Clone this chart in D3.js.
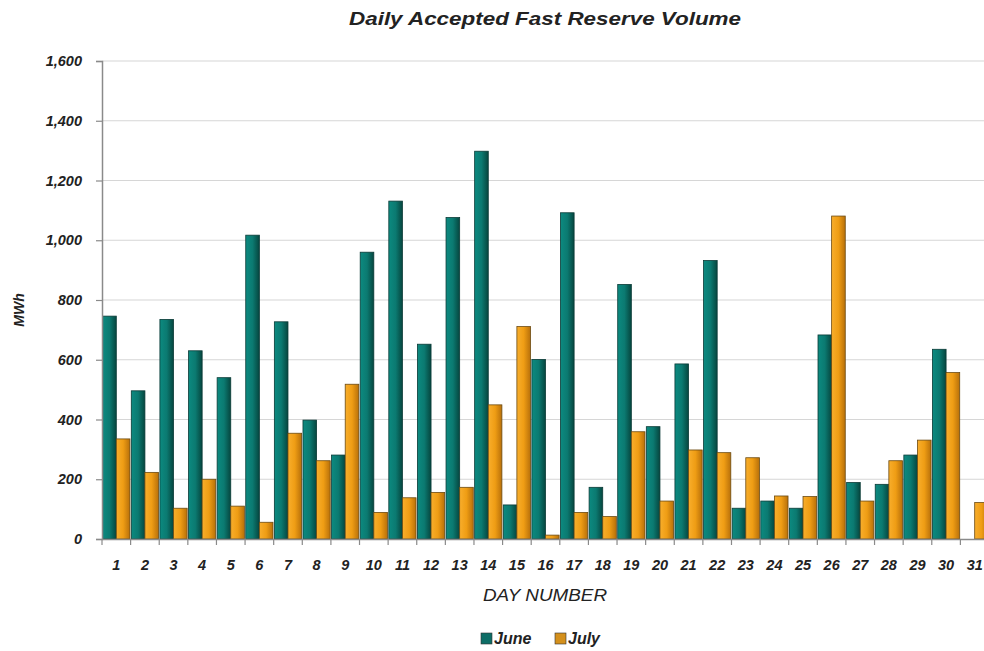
<!DOCTYPE html>
<html>
<head>
<meta charset="utf-8">
<script src="https://cdn.jsdelivr.net/npm/d3@7"></script>
<style>
  body { margin: 0; background: #fff; overflow: hidden; }
  svg { display: block; font-family: "Liberation Sans", Arial, sans-serif; }
</style>
</head>
<body>
<div id="chart"></div>
<script>
const days = d3.range(1, 32).map(String);
const june = [746, 496, 735, 630, 540, 1017, 727, 398, 281, 960, 1131, 652, 1076, 1298, 114, 601,
  1092, 173, 852, 376, 586, 932, 103, 127, 103, 683, 189, 183, 281, 635, 0];
const july = [335, 223, 103, 200, 110, 56, 354, 262, 518, 89, 138, 156, 173, 449, 711, 13,
  89, 75, 359, 127, 298, 289, 272, 144, 142, 1081, 127, 262, 331, 557, 122];
const seriesNames = ["June", "July"];
const yTicks = [0, 200, 400, 600, 800, 1000, 1200, 1400, 1600];

const W = 984, H = 651;
const margin = {top: 61, left: 102};
const plotW = 887, plotH = 478;

const svg = d3.select("#chart").append("svg")
  .attr("width", W).attr("height", H);

// gradients for the bars
const defs = svg.append("defs");
const grads = [
  {id: "gJune", stops: ["#0c8a80", "#0b7a71", "#06463f"]},
  {id: "gJuly", stops: ["#f8ae2c", "#ef9d14", "#b8700a"]}
];
grads.forEach(g => {
  const lg = defs.append("linearGradient").attr("id", g.id)
    .attr("x1", "0").attr("x2", "1").attr("y1", "0").attr("y2", "0");
  lg.append("stop").attr("offset", "0%").attr("stop-color", g.stops[0]);
  lg.append("stop").attr("offset", "50%").attr("stop-color", g.stops[1]);
  lg.append("stop").attr("offset", "100%").attr("stop-color", g.stops[2]);
});

const g = svg.append("g").attr("transform", `translate(${margin.left},${margin.top})`);

const x = d3.scaleBand().domain(days).range([0, plotW]).paddingInner(0).paddingOuter(0);
const x1 = d3.scaleBand().domain(seriesNames).range([0, x.bandwidth()]).paddingOuter(0.05);
const y = d3.scaleLinear().domain([0, 1600]).range([plotH, 0]);

// grid
g.append("g").selectAll("line").data(yTicks.slice(1)).join("line")
  .attr("x1", 0).attr("x2", plotW)
  .attr("y1", d => y(d)).attr("y2", d => y(d))
  .attr("stroke", "#d6d6d6").attr("stroke-width", 1.2);

// bars
const rows = days.map((d, i) => ({day: d, June: june[i], July: july[i]}));
const grp = g.append("g").selectAll("g").data(rows).join("g")
  .attr("transform", d => `translate(${x(d.day)},0)`);
grp.selectAll("rect")
  .data(d => seriesNames.map(k => ({key: k, value: d[k]})).filter(e => e.value > 0))
  .join("rect")
  .attr("x", d => x1(d.key))
  .attr("width", x1.bandwidth())
  .attr("y", d => y(d.value))
  .attr("height", d => y(0) - y(d.value))
  .attr("fill", d => d.key === "June" ? "url(#gJune)" : "url(#gJuly)")
  .attr("stroke", d => d.key === "June" ? "#0a3a36" : "#6b4a12")
  .attr("stroke-width", 0.8);

// axes
const yAxis = g.append("g")
  .call(d3.axisLeft(y).tickValues(yTicks).tickSize(6).tickFormat(d3.format(",")));
const xAxis = g.append("g").attr("transform", `translate(0,${plotH})`)
  .call(d3.axisBottom(x).tickSize(0).tickPadding(21));
[yAxis, xAxis].forEach(a => {
  a.select(".domain").attr("stroke", "#8a8a8a").attr("stroke-width", 1.5);
  a.selectAll(".tick line").attr("stroke", "#8a8a8a").attr("stroke-width", 1.2);
  a.selectAll("text").attr("font-size", 14.5).attr("font-weight", "bold")
    .attr("font-style", "italic").attr("fill", "#222")
    .attr("font-family", "'Liberation Sans', Arial, sans-serif");
});
yAxis.selectAll("text").attr("dx", -11);
// category separator ticks
xAxis.append("g").selectAll("line").data(days.concat("end")).join("line")
  .attr("x1", (d, i) => i * x.step()).attr("x2", (d, i) => i * x.step())
  .attr("y1", 0).attr("y2", 6)
  .attr("stroke", "#8a8a8a").attr("stroke-width", 1.2);

// titles
svg.append("text").attr("x", 545).attr("y", 25).attr("text-anchor", "middle")
  .attr("font-size", 19).attr("font-weight", "bold").attr("font-style", "italic")
  .attr("textLength", 392).attr("lengthAdjust", "spacingAndGlyphs")
  .attr("fill", "#222").text("Daily Accepted Fast Reserve Volume");
svg.append("text").attr("transform", "translate(24,310) rotate(-90)")
  .attr("text-anchor", "middle").attr("font-size", 14).attr("font-weight", "bold")
  .attr("font-style", "italic").attr("fill", "#222").text("MWh");
svg.append("text").attr("x", 545).attr("y", 601).attr("text-anchor", "middle")
  .attr("font-size", 17).attr("font-style", "italic").attr("fill", "#222")
  .attr("textLength", 124).attr("lengthAdjust", "spacingAndGlyphs")
  .text("DAY NUMBER");

// legend
const legend = svg.append("g").attr("transform", "translate(481,644)");
const legItems = [{name: "June", color: "#0d6d66", x: 0}, {name: "July", color: "#d4901c", x: 74}];
legItems.forEach(it => {
  legend.append("rect").attr("x", it.x).attr("y", -11).attr("width", 11).attr("height", 11)
    .attr("fill", it.color).attr("stroke", "#333").attr("stroke-width", 0.6);
  legend.append("text").attr("x", it.x + 13).attr("y", 0)
    .attr("font-size", 16).attr("font-weight", "bold").attr("font-style", "italic")
    .attr("fill", "#222").text(it.name);
});
</script>
</body>
</html>
